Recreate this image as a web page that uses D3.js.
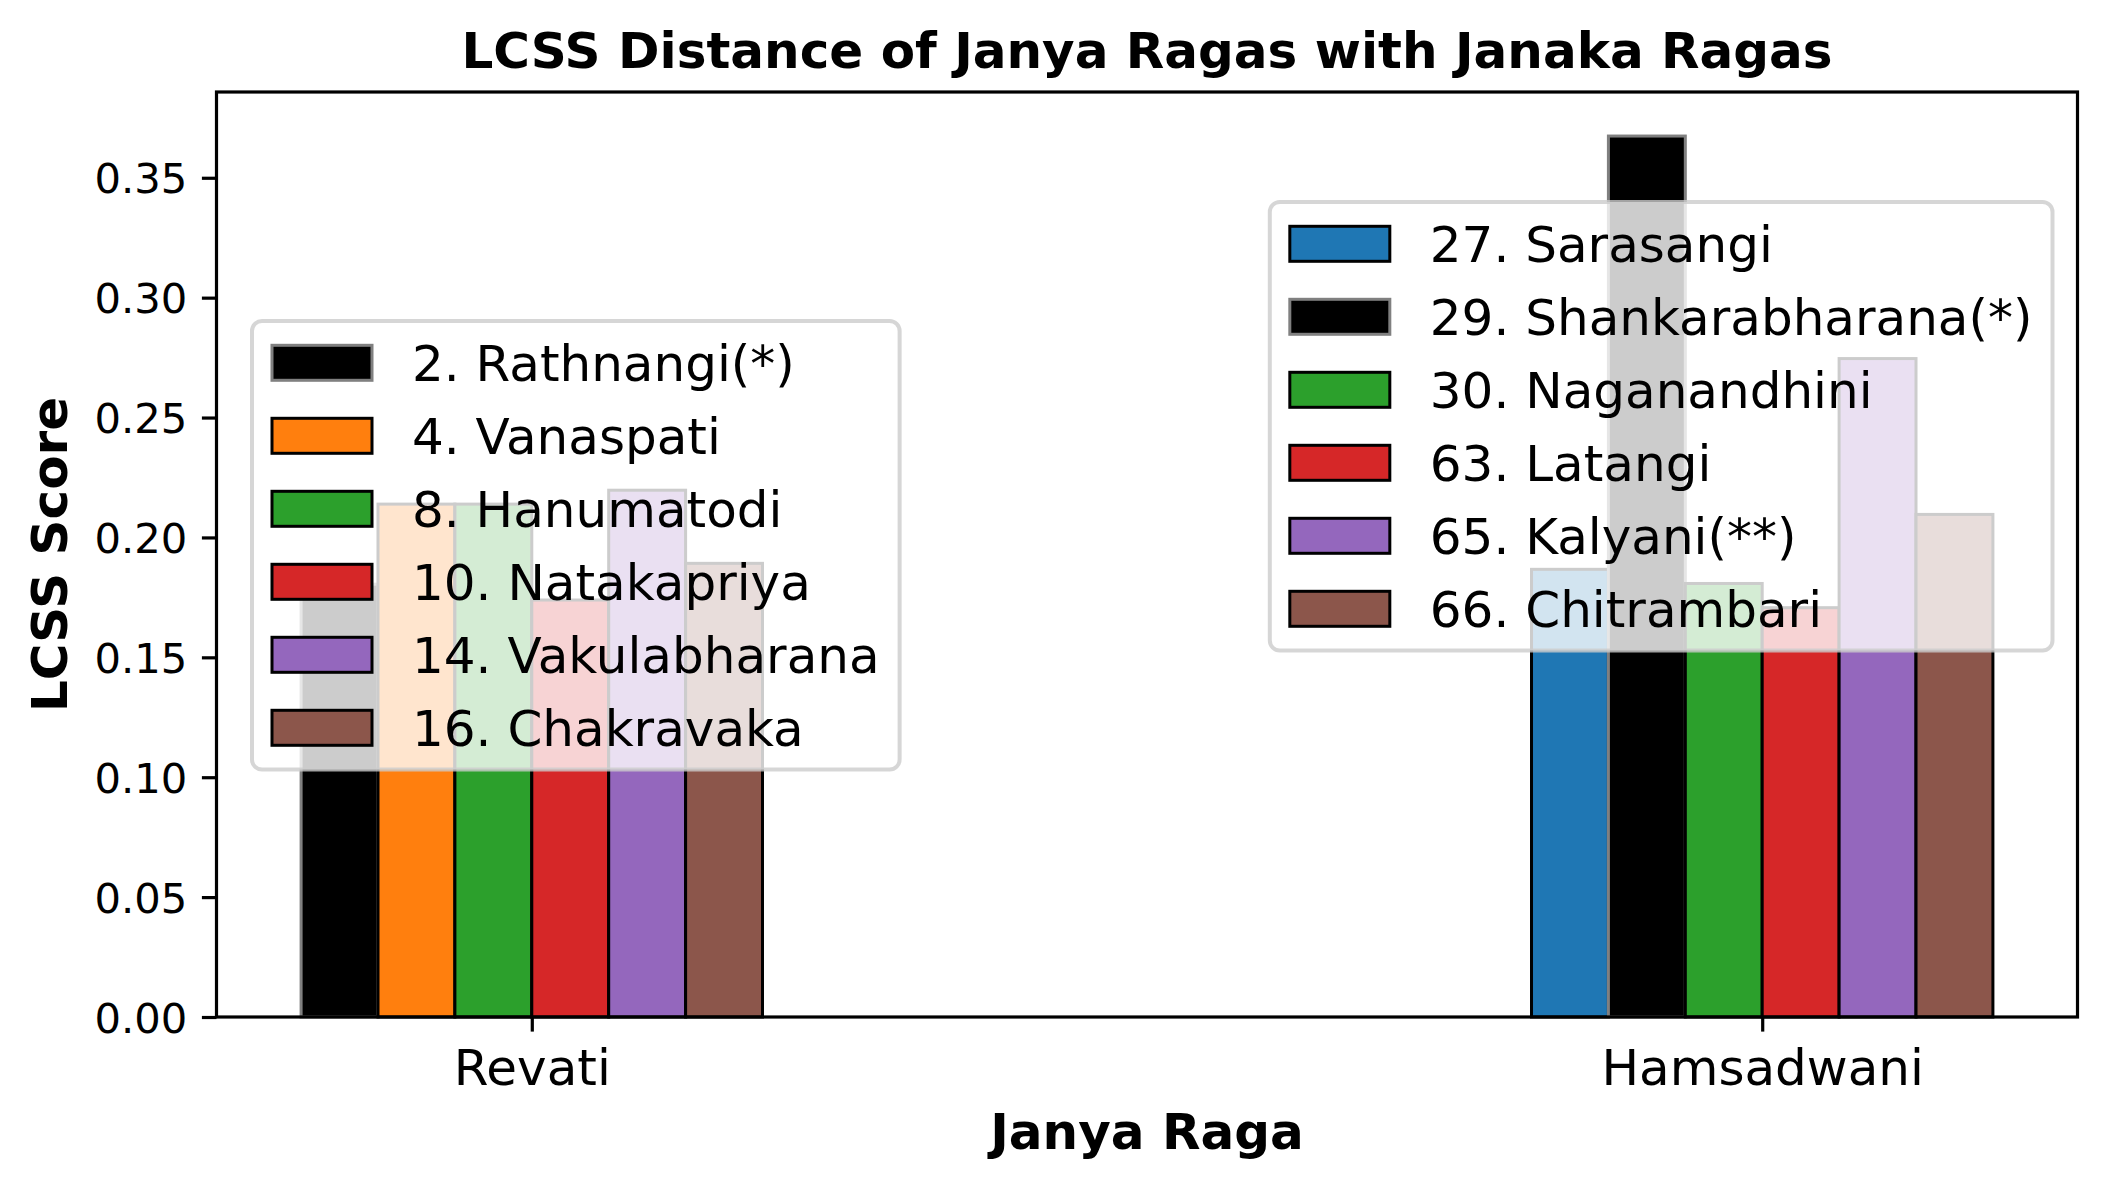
<!DOCTYPE html>
<html>
<head>
<meta charset="utf-8">
<script src="https://cdn.jsdelivr.net/npm/d3@7"></script>
<style>
  html, body { margin: 0; padding: 0; background: #fff; }
  svg { display: block; }
  text { font-family: "DejaVu Sans", sans-serif; fill: #000; }
</style>
</head>
<body>
<script>
// ---------------- data ----------------
const categories = ["Revati", "Hamsadwani"];

const revatiLabels = ["2. Rathnangi(*)", "4. Vanaspati", "8. Hanumatodi", "10. Natakapriya", "14. Vakulabharana", "16. Chakravaka"];
const revatiValues = [0.1805, 0.2139, 0.2139, 0.1739, 0.2197, 0.1892];
const revatiColors = ["#000000", "#ff7f0e", "#2ca02c", "#d62728", "#9467bd", "#8c564b"];
const revatiEdges  = ["#808080", "#000000", "#000000", "#000000", "#000000", "#000000"];

const hamsaLabels = ["27. Sarasangi", "29. Shankarabharana(*)", "30. Naganandhini", "63. Latangi", "65. Kalyani(**)", "66. Chitrambari"];
const hamsaValues = [0.1867, 0.3674, 0.1808, 0.1707, 0.2746, 0.2096];
const hamsaColors = ["#1f77b4", "#000000", "#2ca02c", "#d62728", "#9467bd", "#8c564b"];
const hamsaEdges  = ["#000000", "#808080", "#000000", "#000000", "#000000", "#000000"];

const yTicks = [0.00, 0.05, 0.10, 0.15, 0.20, 0.25, 0.30, 0.35];

const titleText = "LCSS Distance of Janya Ragas with Janaka Ragas";
const xLabelText = "Janya Raga";
const yLabelText = "LCSS Score";

// ---------------- layout ----------------
const W = 2106, H = 1188;
const plot = { left: 216.5, right: 2077.5, top: 92, bottom: 1017 };
const barW = 0.0625;
const nSeries = 6;

const svg = d3.select("body").append("svg").attr("width", W).attr("height", H);

const groups = [
  { cat: 0, values: revatiValues, labels: revatiLabels, colors: revatiColors, edges: revatiEdges },
  { cat: 1, values: hamsaValues, labels: hamsaLabels, colors: hamsaColors, edges: hamsaEdges }
];

const dataMin = 0 - (nSeries / 2) * barW;
const dataMax = 1 + (nSeries / 2) * barW;
const padX = (dataMax - dataMin) * 0.05;
const x = d3.scaleLinear().domain([dataMin - padX, dataMax + padX]).range([plot.left, plot.right]);

const maxVal = d3.max(groups.flatMap(g => g.values));
const y = d3.scaleLinear().domain([0, maxVal * 1.05]).range([plot.bottom, plot.top]);

// ---------------- bars ----------------
const bars = [];
groups.forEach(g => {
  g.values.forEach((v, i) => {
    bars.push({ cat: g.cat, i, v, color: g.colors[i], edge: g.edges[i] });
  });
});

svg.append("g").selectAll("rect").data(bars).join("rect")
  .attr("x", d => x(d.cat + (d.i - (nSeries - 1) / 2) * barW - barW / 2))
  .attr("width", d => x(barW) - x(0))
  .attr("y", d => y(d.v))
  .attr("height", d => y(0) - y(d.v))
  .attr("fill", d => d.color)
  .attr("stroke", d => d.edge)
  .attr("stroke-width", 3);

// ---------------- axes ----------------
const tickLen = 14.6, tickPad = 14.6, lw = 3.2;

const yAxis = svg.append("g").attr("transform", `translate(${plot.left},0)`)
  .call(d3.axisLeft(y).tickValues(yTicks).tickFormat(d3.format(".2f")).tickSize(tickLen).tickPadding(tickPad));
yAxis.select(".domain").remove();
yAxis.selectAll(".tick line").attr("stroke", "#000").attr("stroke-width", lw);
yAxis.selectAll(".tick text").attr("font-size", 41.7).attr("font-family", "DejaVu Sans")
  .attr("dy", null).attr("dominant-baseline", null)
  .attr("transform", "translate(0,15.2)");

const xAxis = svg.append("g").attr("transform", `translate(0,${plot.bottom})`)
  .call(d3.axisBottom(x).tickValues([0, 1]).tickFormat(i => categories[i]).tickSize(tickLen).tickPadding(tickPad));
xAxis.select(".domain").remove();
xAxis.selectAll(".tick line").attr("stroke", "#000").attr("stroke-width", lw);
xAxis.selectAll(".tick text").attr("font-size", 50).attr("font-family", "DejaVu Sans")
  .attr("dy", null).attr("y", 1085 - plot.bottom);

// spines
svg.append("rect")
  .attr("x", plot.left).attr("y", plot.top)
  .attr("width", plot.right - plot.left).attr("height", plot.bottom - plot.top)
  .attr("fill", "none").attr("stroke", "#000").attr("stroke-width", lw);

// ---------------- labels ----------------
svg.append("text").attr("x", (plot.left + plot.right) / 2).attr("y", 68)
  .attr("text-anchor", "middle").attr("font-size", 50).attr("font-weight", "bold").text(titleText);

svg.append("text").attr("x", (plot.left + plot.right) / 2).attr("y", 1149)
  .attr("text-anchor", "middle").attr("font-size", 50).attr("font-weight", "bold").text(xLabelText);

svg.append("text").attr("transform", `translate(67,${(plot.top + plot.bottom) / 2}) rotate(-90)`)
  .attr("text-anchor", "middle").attr("font-size", 50).attr("font-weight", "bold").text(yLabelText);

// ---------------- legends ----------------
const fs = 50;
function drawLegend(g, anchor) {
  const lg = svg.append("g");
  const bg = lg.append("rect");
  const borderPad = 0.4 * fs, handleLen = 2.0 * fs, handleH = 0.7 * fs, textPad = 0.8 * fs;
  const rowStep = 73, firstCenter = 41.8;
  const rows = lg.append("g");
  let maxText = 0;
  g.labels.forEach((lab, i) => {
    const cy = firstCenter + i * rowStep;
    rows.append("rect")
      .attr("x", borderPad).attr("y", cy - handleH / 2)
      .attr("width", handleLen).attr("height", handleH)
      .attr("fill", g.colors[i]).attr("stroke", g.edges[i]).attr("stroke-width", 3);
    const t = rows.append("text")
      .attr("x", borderPad + handleLen + textPad).attr("y", cy + 0.364 * fs)
      .attr("font-size", fs).text(lab);
    maxText = Math.max(maxText, t.node().getComputedTextLength());
  });
  const w = borderPad * 2 + handleLen + textPad + maxText;
  const h = firstCenter * 2 + (g.labels.length - 1) * rowStep;
  bg.attr("width", w).attr("height", h).attr("rx", 10).attr("ry", 10)
    .attr("fill", "#fff").attr("fill-opacity", 0.8)
    .attr("stroke", "#cccccc").attr("stroke-opacity", 0.8).attr("stroke-width", 4);
  const left = anchor.right !== undefined ? anchor.right - w : anchor.left;
  lg.attr("transform", `translate(${left},${anchor.top})`);
}

drawLegend(groups[0], { left: 252, top: 321 });
drawLegend(groups[1], { right: plot.right - 25, top: 202 });
</script>
</body>
</html>
